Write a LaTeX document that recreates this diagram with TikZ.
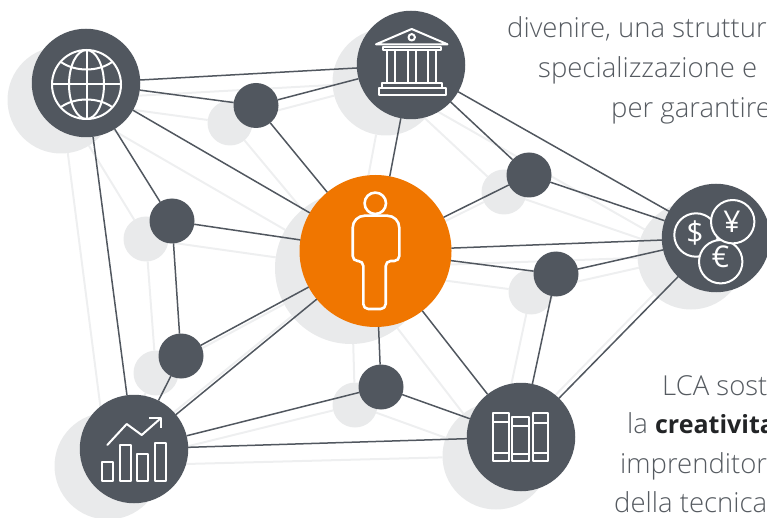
\documentclass[tikz,border=0pt]{standalone}
\usepackage{fontspec}
\setmainfont{Open Sans Light}
\newfontfamily\regfont{Open Sans}
\definecolor{slate}{HTML}{51575F}
\definecolor{halo}{HTML}{E9EAEB}
\definecolor{haloline}{HTML}{EEEFF0}
\definecolor{orangefill}{HTML}{F07600}
\definecolor{txt}{HTML}{565B61}
\definecolor{txtbold}{HTML}{222426}
\tikzset{
  big/.style={circle,fill=slate,minimum size=108.5pt,inner sep=0pt,outer sep=0pt},
  small/.style={circle,fill=slate,minimum size=45pt,inner sep=0pt,outer sep=0pt},
  centre/.style={circle,fill=orangefill,minimum size=152pt,inner sep=0pt,outer sep=0pt},
  bighalo/.style={circle,fill=halo,minimum size=107pt,inner sep=0pt,outer sep=0pt},
  smallhalo/.style={circle,fill=halo,minimum size=45pt,inner sep=0pt,outer sep=0pt},
  centrehalo/.style={circle,fill=halo,minimum size=152pt,inner sep=0pt,outer sep=0pt},
  link/.style={draw=slate,line width=1.5pt},
  halolink/.style={draw=haloline,line width=2pt},
  icon/.style={draw=white,line width=2pt,line join=round},
  iconthick/.style={draw=white,line width=2.6pt,line join=round},
  para/.style={text=txt,font=\fontsize{27.5}{27.5}\selectfont,anchor=base west,inner sep=0pt},
  coinsign/.style={text=white,font=\regfont\fontsize{30}{30}\selectfont,inner sep=0pt}
}
\begin{document}
\begin{tikzpicture}[x=1pt,y=-1pt]
\useasboundingbox (0,0) rectangle (767,518);
% halo layer
\node[bighalo] (hglobe) at (61,100) {};
\node[bighalo] (hbank) at (386,82) {};
\node[bighalo] (hmoney) at (691,256) {};
\node[bighalo] (hchart) at (108,466) {};
\node[bighalo] (hbooks) at (496,456) {};
\node[centrehalo] (hperson) at (351,268) {};
\node[smallhalo] (ha) at (230,123) {};
\node[smallhalo] (hb) at (146,239) {};
\node[smallhalo] (hc) at (504,192) {};
\node[smallhalo] (hd) at (531,292) {};
\node[smallhalo] (he) at (156,373) {};
\node[smallhalo] (hf) at (355,405) {};
\foreach \p/\q in {hglobe/hbank,hglobe/ha,ha/hbank,ha/hperson,hglobe/hperson,hglobe/hb,hglobe/hchart,hb/hperson,hb/he,he/hchart,he/hperson,hchart/hperson,hchart/hf,hchart/hbooks,hf/hperson,hf/hbooks,hperson/hbank,hperson/hc,hc/hbank,hc/hmoney,hbank/hmoney,hperson/hmoney,hperson/hd,hd/hmoney,hd/hbooks,hmoney/hbooks,hperson/hbooks}
  \draw[halolink] (\p) -- (\q);
% main nodes
\node[big] (globe) at (86,83) {};
\node[big] (bank) at (411,65) {};
\node[big] (money) at (716,238) {};
\node[big] (chart) at (134,449) {};
\node[big] (books) at (521,437) {};
\node[centre] (person) at (375.5,251) {};
\node[small] (a) at (256,105.5) {};
\node[small] (b) at (172,221) {};
\node[small] (c) at (529,175) {};
\node[small] (d) at (556,274) {};
\node[small] (e) at (181,356) {};
\node[small] (f) at (381,387) {};
\foreach \p/\q in {globe/bank,globe/a,a/bank,a/person,globe/person,globe/b,globe/chart,b/person,b/e,e/chart,e/person,chart/person,chart/f,chart/books,f/person,f/books,person/bank,person/c,c/bank,c/money,bank/money,person/money,person/d,d/money,d/books,money/books,person/books}
  \draw[link] (\p) -- (\q);
% globe icon
\draw[icon] (86.5,84.5) circle (34.5);
\draw[icon] (86.5,84.5) ellipse (17.5 and 34.5);
\draw[icon] (86.5,50) -- (86.5,119) (52,84.5) -- (121,84.5);
\draw[icon] (61,62) .. controls (75,72) and (98,72) .. (112,62);
\draw[icon] (61,107) .. controls (75,97) and (98,97) .. (112,107);
% bank icon
\draw[icon] (411.7,29) -- (376,44.3) -- (447.5,44.3) -- cycle;
\draw[icon] (411.7,37.3) circle (3.2);
\draw[icon] (383,47) rectangle (441,50.5);
\draw[icon] (387.3,50.5) -- (387.3,82) (395,50.5) -- (395,82) (407.7,50.5) -- (407.7,82) (415.7,50.5) -- (415.7,82) (428.3,50.5) -- (428.3,82) (436,50.5) -- (436,82);
\draw[icon] (382.3,82.7) rectangle (441.7,88.5);
\draw[icon] (378.7,88.5) rectangle (445.7,94.7);
% person icon
\draw[iconthick] (375.3,203.3) circle (10.7);
\draw[iconthick] (352.7,240) {[rounded corners=12pt] -- (352.7,215.7) -- (399.3,215.7) -- (399.3,240)} {[rounded corners=5pt] -- (399.3,261) -- (385.7,261) -- (385.7,309) -- (363.3,309) -- (363.3,261) -- (352.7,261) -- (352.7,240)} -- cycle;
% coin icon
\draw[icon,fill=slate] (696,235) circle (21.7);
\draw[icon,fill=slate] (720.7,261.7) circle (21.7);
\draw[icon,fill=slate] (732.7,221.7) circle (21.7);
\node[coinsign] (dollar) at (695,233) {\$};
\node[coinsign] (yen) at (732,222) {¥};
\node[coinsign] (euro) at (720.5,257) {€};
% chart icon
\draw[icon,line cap=round] (107.3,445) -- (126.7,424) -- (141.7,435) -- (160.7,418.3);
\draw[icon] (149.3,417.7) -- (160.7,417.7) -- (160.7,428.3);
\draw[icon] (102.3,461.7) rectangle (113.3,480.7);
\draw[icon] (120,445) rectangle (131,480.7);
\draw[icon] (137.3,454) rectangle (148.3,480.7);
\draw[icon] (154.7,443.3) rectangle (166,480.7);
% books icon
\draw[icon] (493.3,413.3) rectangle (508.7,460.7);
\draw[icon] (493.3,421.7) -- (508.7,421.7) (493.3,452.7) -- (508.7,452.7);
\draw[icon] (511.7,417.3) rectangle (529,460.7);
\draw[icon] (511.7,426) -- (529,426) (511.7,454.3) -- (529,454.3);
\draw[icon] (532.7,413.3) rectangle (548.3,460.7);
\draw[icon] (532.7,423.3) -- (548.3,423.3) (532.7,452.7) -- (548.3,452.7);
% text
\node[para] (t1) at (507,38) {divenire, una struttur};
\node[para] (t2) at (538,78) {specializzazione e};
\node[para] (t3) at (611,118) {per garantire};
\node[para] (t4) at (662,395) {LCA sost};
\node[para] (t5) at (627,433) {la {\regfont\bfseries\color{txtbold}\fontsize{25}{25}\selectfont creativita}};
\node[para] (t6) at (620,473) {imprenditor};
\node[para] (t7) at (614,512.5) {della tecnica};
\end{tikzpicture}
\end{document}
